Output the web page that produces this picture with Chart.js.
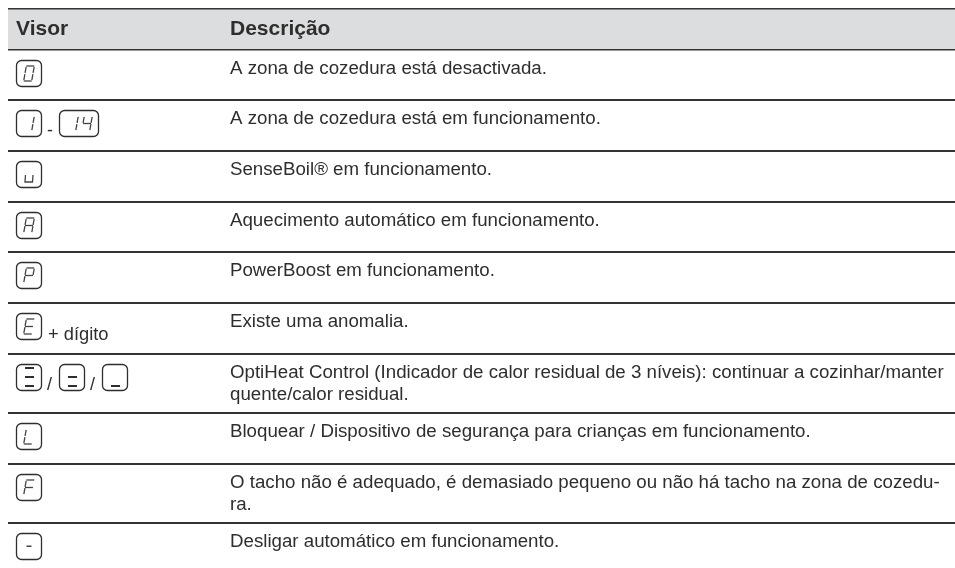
<!DOCTYPE html>
<html lang="pt">
<head>
<meta charset="utf-8">
<title>Visor</title>
<style>
  html, body { margin: 0; padding: 0; background: #fff; }
  canvas { display: block; }
</style>
<script src="https://cdn.jsdelivr.net/npm/chart.js@4"></script>
</head>
<body>
<canvas id="tabela" width="955" height="568"></canvas>
<script>
const headers = ['Visor', 'Descrição']
const displays = [
  ['[0]'],
  ['[1]', '-', '[14]'],
  ['[u]'],
  ['[A]'],
  ['[P]'],
  ['[E]', '+ dígito'],
  ['[#3]', '/', '[#2]', '/', '[#1]'],
  ['[L]'],
  ['[F]'],
  ['[-]'],
]
const descriptions = [
  ['A zona de cozedura está desactivada.'],
  ['A zona de cozedura está em funcionamento.'],
  ['SenseBoil® em funcionamento.'],
  ['Aquecimento automático em funcionamento.'],
  ['PowerBoost em funcionamento.'],
  ['Existe uma anomalia.'],
  ['OptiHeat Control (Indicador de calor residual de 3 níveis): continuar a cozinhar/manter', 'quente/calor residual.'],
  ['Bloquear / Dispositivo de segurança para crianças em funcionamento.'],
  ['O tacho não é adequado, é demasiado pequeno ou não há tacho na zona de cozedu-', 'ra.'],
  ['Desligar automático em funcionamento.'],
]

// layout only, in y scale units (page pixels)
const rules = [9, 50, 100, 151, 202, 252, 303, 354, 413, 464, 523]
const colX = [16, 230]
const FONT = '"Liberation Sans", Arial, sans-serif'
const INK = '#2f2e2f'

const SEGMENTS = {
  0: 'abcdef', 1: 'bc', 4: 'bcfg', A: 'abcefg', P: 'abefg',
  E: 'adefg', L: 'def', F: 'aefg',
}

function drawDigit(ctx, cx, top, ch) {
  const w = 8, h = 15, slant = 1.3
  const pt = (x, y) => [cx + x + slant * (1 - (y / h) * 2), top + y]
  const seg = {
    a: [[-w / 2, 0], [w / 2, 0]],
    b: [[w / 2, 0.8], [w / 2, h / 2 - 0.6]],
    c: [[w / 2, h / 2 + 0.6], [w / 2, h - 0.8]],
    d: [[-w / 2, h], [w / 2, h]],
    e: [[-w / 2, h / 2 + 0.6], [-w / 2, h - 0.8]],
    f: [[-w / 2, 0.8], [-w / 2, h / 2 - 0.6]],
    g: [[-w / 2, h / 2], [w / 2, h / 2]],
  }
  ctx.lineWidth = 1.3
  ctx.strokeStyle = '#444'
  for (const s of SEGMENTS[ch]) {
    const a = pt(seg[s][0][0], seg[s][0][1]), b = pt(seg[s][1][0], seg[s][1][1])
    ctx.beginPath()
    ctx.moveTo(a[0], a[1])
    ctx.lineTo(b[0], b[1])
    ctx.stroke()
  }
}

function drawBox(ctx, x, y, w) {
  ctx.lineWidth = 1.3
  ctx.strokeStyle = INK
  ctx.beginPath()
  ctx.roundRect(x + 0.5, y + 0.5, w - 1, 26, 5)
  ctx.stroke()
}

function drawDisplay(ctx, item, x, y) {
  const key = item.slice(1, -1)
  if (key[0] === '#') {
    // residual heat: stacked bars, bottom first
    const w = 26
    drawBox(ctx, x, y, w)
    const n = Number(key[1])
    ctx.fillStyle = INK
    const bars = [21, 12, 3]
    for (let i = 0; i < n; i++) ctx.fillRect(x + 9, y + bars[i], 9, 2)
    return w
  }
  const w = key.length > 1 ? 40 : 26
  drawBox(ctx, x, y, w)
  if (key.length > 1) {
    drawDigit(ctx, x + 14, y + 6, key[0])
    drawDigit(ctx, x + 28, y + 6, key[1])
  } else if (key === 'u') {
    ctx.lineWidth = 1.3
    ctx.strokeStyle = '#444'
    ctx.beginPath()
    ctx.moveTo(x + 9.5, y + 14)
    ctx.lineTo(x + 9, y + 21)
    ctx.lineTo(x + 16.5, y + 21)
    ctx.lineTo(x + 17, y + 14)
    ctx.stroke()
  } else if (key === '-') {
    ctx.fillStyle = '#444'
    ctx.fillRect(x + 10.5, y + 12.5, 5, 1.5)
  } else {
    drawDigit(ctx, x + 13, y + 6, key)
  }
  return w
}

const tableText = {
  id: 'tableText',
  afterDatasetsDraw(chart) {
    const { ctx, scales: { y } } = chart
    ctx.save()
    ctx.textBaseline = 'alphabetic'
    ctx.fillStyle = INK
    ctx.font = 'bold 21px ' + FONT
    headers.forEach((h, i) => ctx.fillText(h, colX[i], y.getPixelForValue(rules[0] + 26)))

    displays.forEach((row, r) => {
      const top = y.getPixelForValue(rules[r + 1])
      ctx.fillStyle = INK
      ctx.font = '18.7px ' + FONT
      descriptions[r].forEach((line, l) => {
        ctx.fillText(line, colX[1], top + 24 + l * 22)
      })
      let cx = colX[0]
      row.forEach((item) => {
        if (item[0] === '[') {
          cx += drawDisplay(ctx, item, cx, top + 10)
        } else if (item[0] === '+') {
          ctx.fillStyle = INK
          ctx.font = '18.3px ' + FONT
          ctx.fillText(item, cx + 6, top + 36.5)
        } else {
          ctx.fillStyle = INK
          ctx.font = '18px ' + FONT
          ctx.fillText(item, cx + 5, top + 36)
          cx += 17
        }
      })
    })
    ctx.restore()
  },
}

new Chart(document.getElementById('tabela'), {
  type: 'line',
  data: {
    datasets: [
      {
        // header band
        data: [{ x: 0, y: rules[0] }, { x: 1, y: rules[0] }],
        borderWidth: 0,
        pointRadius: 0,
        backgroundColor: '#dcddde',
        fill: { value: rules[1] },
      },
    ],
  },
  options: {
    responsive: false,
    animation: false,
    events: [],
    layout: { padding: { left: 8 } },
    plugins: { legend: { display: false }, tooltip: { enabled: false } },
    scales: {
      x: { type: 'linear', display: false, min: 0, max: 1 },
      y: {
        type: 'linear',
        reverse: true,
        min: 0,
        max: 568,
        afterBuildTicks: (axis) => { axis.ticks = rules.map((value) => ({ value })) },
        ticks: { display: false },
        border: { display: false },
        grid: {
          color: '#333',
          lineWidth: (c) => (c.index < 2 ? 1.5 : 2),
          drawTicks: false,
          z: 1,
        },
      },
    },
  },
  plugins: [tableText],
})
</script>
</body>
</html>
